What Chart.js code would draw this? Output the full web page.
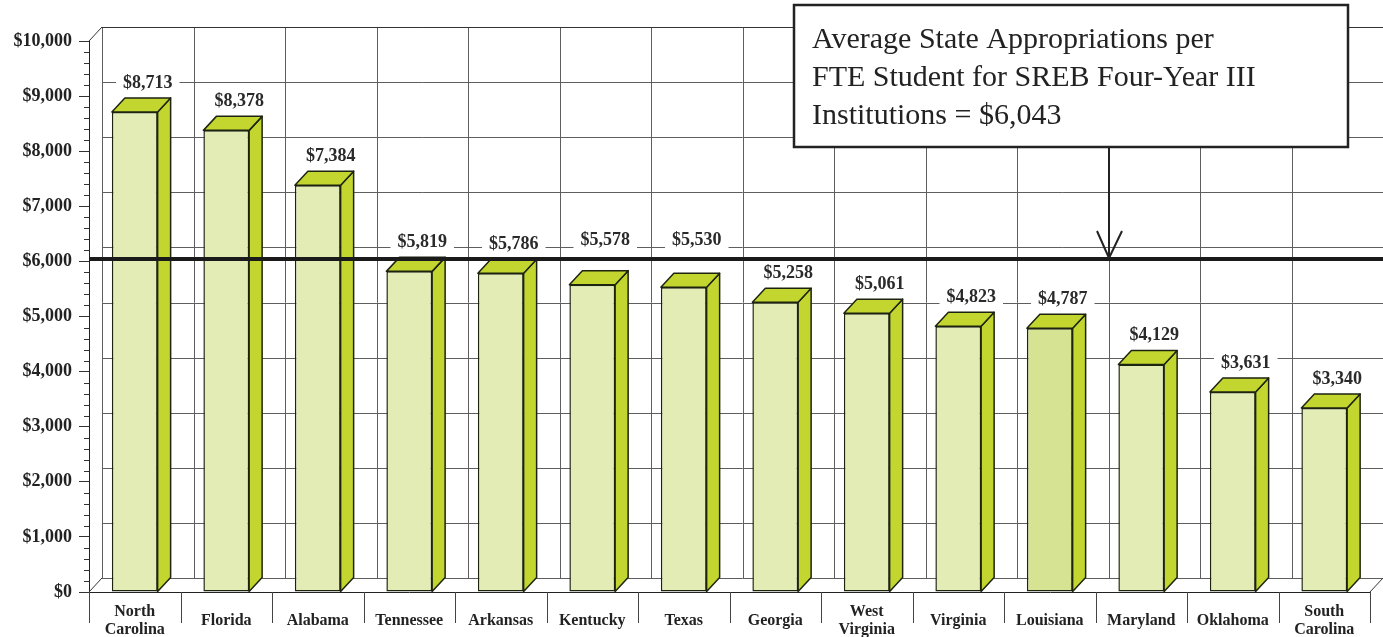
<!DOCTYPE html>
<html>
<head>
<meta charset="utf-8">
<script src="https://cdn.jsdelivr.net/npm/chart.js@4.4.0/dist/chart.umd.min.js"></script>
<style>
  html, body { margin: 0; padding: 0; background: #fff; }
  #wrap { width: 1383px; height: 637px; }
</style>
</head>
<body>
<div id="wrap"><canvas id="grafico" width="1383" height="637"></canvas></div>
<script>
// Dados
const estados = [['North', 'Carolina'], 'Florida', 'Alabama', 'Tennessee', 'Arkansas', 'Kentucky',
  'Texas', 'Georgia', ['West', 'Virginia'], 'Virginia', 'Louisiana', 'Maryland', 'Oklahoma', ['South', 'Carolina']];
const valores = [8713, 8378, 7384, 5819, 5786, 5578, 5530, 5258, 5061, 4823, 4787, 4129, 3631, 3340];
const ticksY = [0, 1000, 2000, 3000, 4000, 5000, 6000, 7000, 8000, 9000, 10000];
const mediaSREB = 6043;
const textoNota = ['Average State Appropriations per', 'FTE Student for SREB Four-Year III', 'Institutions = $6,043'];

const DX = 13; // profundidade 3D
const DY = 14;
const corFrente = '#e2ecb4';
const corLouisiana = '#d5e392';
const corLado = '#c3d630';
const corBorda = '#1c2410';
const corGrade = '#5e5e5e';
const fonteRotulo = '"Liberation Serif", "Times New Roman", serif';

const dinheiro = v => '$' + v.toLocaleString('en-US');

function limiteCategoria(x, i) {
  const w = x.getPixelForValue(1) - x.getPixelForValue(0);
  return x.getPixelForValue(0) - w / 2 + i * w;
}

function linha(ctx, x1, y1, x2, y2) {
  ctx.beginPath();
  ctx.moveTo(x1, y1);
  ctx.lineTo(x2, y2);
  ctx.stroke();
}

// Parede do fundo, chão, faces 3D, média e nota
const fundo3d = {
  id: 'fundo3d',
  beforeDatasetsDraw(chart) {
    const { ctx, chartArea: a, scales: { x, y } } = chart;
    const W = chart.width;
    ctx.save();
    ctx.strokeStyle = corGrade;
    ctx.lineWidth = 1;
    ticksY.forEach(v => {
      const py = Math.round(y.getPixelForValue(v) - DY) + 0.5;
      linha(ctx, a.left + DX, py, W, py);
    });
    for (let i = 0; i < estados.length; i++) {
      const bx = Math.round(limiteCategoria(x, i) + DX) + 0.5;
      linha(ctx, bx, a.top - DY, bx, a.bottom - DY);
    }
    ctx.strokeStyle = '#333';
    linha(ctx, a.left + DX, a.top - DY + 0.5, W, a.top - DY + 0.5);
    linha(ctx, a.left, a.top, a.left + DX, a.top - DY);
    linha(ctx, a.left, a.bottom, a.left + DX, a.bottom - DY);
    linha(ctx, a.right, a.bottom, a.right + DX, a.bottom - DY);
    ctx.restore();
  },
  afterDatasetsDraw(chart) {
    const { ctx } = chart;
    const meta = chart.getDatasetMeta(0);
    ctx.save();
    ctx.lineWidth = 1.5;
    ctx.strokeStyle = corBorda;
    ctx.lineJoin = 'round';
    meta.data.forEach(bar => {
      const l = bar.x - bar.width / 2;
      const r = bar.x + bar.width / 2;
      const t = bar.y;
      const b = bar.base;
      ctx.fillStyle = corLado;
      // lado
      ctx.beginPath();
      ctx.moveTo(r, t);
      ctx.lineTo(r + DX, t - DY);
      ctx.lineTo(r + DX, b - DY);
      ctx.lineTo(r, b);
      ctx.closePath();
      ctx.fill();
      ctx.stroke();
      // topo
      ctx.beginPath();
      ctx.moveTo(l, t);
      ctx.lineTo(l + DX, t - DY);
      ctx.lineTo(r + DX, t - DY);
      ctx.lineTo(r, t);
      ctx.closePath();
      ctx.fill();
      ctx.stroke();
    });
    ctx.restore();
  },
  afterDraw(chart) {
    const { ctx, chartArea: a, scales: { x, y } } = chart;
    const W = chart.width;
    ctx.save();

    // marcas menores do eixo y
    ctx.strokeStyle = '#333';
    ctx.lineWidth = 1;
    for (let k = 0; k < ticksY.length - 1; k++) {
      for (let m = 1; m < 5; m++) {
        const v = ticksY[k] + (ticksY[k + 1] - ticksY[k]) * m / 5;
        const py = Math.round(y.getPixelForValue(v)) + 0.5;
        linha(ctx, a.left - 5, py, a.left, py);
      }
    }

    // separadores das categorias
    ctx.strokeStyle = '#444';
    for (let i = 0; i <= estados.length; i++) {
      const bx = Math.round(limiteCategoria(x, i)) + 0.5;
      linha(ctx, bx, a.bottom, bx, a.bottom + 31);
    }

    // linha da média
    const yMedia = y.getPixelForValue(mediaSREB);
    ctx.strokeStyle = '#1a1a1a';
    ctx.lineWidth = 4;
    linha(ctx, a.left, yMedia, W, yMedia);

    // rótulos dos valores
    ctx.font = 'bold 18px ' + fonteRotulo;
    ctx.textAlign = 'center';
    ctx.textBaseline = 'middle';
    const meta = chart.getDatasetMeta(0);
    meta.data.forEach((bar, i) => {
      const txt = dinheiro(valores[i]);
      const cx = bar.x + DX;
      let cy = bar.y - 30;
      if (cy + 10 > yMedia - 2 && cy - 10 < yMedia + 2) cy = yMedia - 20;
      const w = ctx.measureText(txt).width + 14;
      ctx.fillStyle = '#fff';
      ctx.fillRect(cx - w / 2, cy - 10, w, 20);
      ctx.fillStyle = '#2a2a2a';
      ctx.fillText(txt, cx, cy + 1);
    });

    // caixa de nota com seta
    const bx = 794, by = 5, bw = 554, bh = 142;
    const setaX = 1109;
    ctx.strokeStyle = '#222';
    ctx.lineWidth = 2;
    linha(ctx, setaX, by + bh, setaX, yMedia - 1);
    ctx.beginPath();
    ctx.moveTo(setaX - 12, yMedia - 28);
    ctx.lineTo(setaX, yMedia - 1);
    ctx.lineTo(setaX + 13, yMedia - 28);
    ctx.stroke();

    ctx.fillStyle = '#fff';
    ctx.fillRect(bx, by, bw, bh);
    ctx.lineWidth = 2.5;
    ctx.strokeRect(bx, by, bw, bh);
    ctx.fillStyle = '#222';
    ctx.font = '30px "Liberation Serif"';
    ctx.textAlign = 'left';
    ctx.textBaseline = 'alphabetic';
    textoNota.forEach((t, i) => ctx.fillText(t, bx + 18, by + 43 + i * 38));

    ctx.restore();
  }
};

const ctx = document.getElementById('grafico').getContext('2d');
new Chart(ctx, {
  type: 'bar',
  data: {
    labels: estados,
    datasets: [{
      data: valores,
      backgroundColor: estados.map(e => e === 'Louisiana' ? corLouisiana : corFrente),
      borderColor: corBorda,
      borderWidth: 1.5,
      borderSkipped: false,
      barPercentage: 0.5,
      categoryPercentage: 1.0,
    }]
  },
  options: {
    responsive: false,
    animation: false,
    devicePixelRatio: 1,
    layout: { padding: { top: 41, right: 13, left: 0, bottom: 0 } },
    plugins: { legend: { display: false }, tooltip: { enabled: false } },
    scales: {
      x: {
        grid: { display: false },
        border: { display: true, color: '#222', width: 1 },
        ticks: {
          autoSkip: false,
          maxRotation: 0,
          crossAlign: 'center',
          padding: 12,
          color: '#222',
          font: { family: fonteRotulo, weight: 'bold', size: 16, lineHeight: 1.125 },
        },
        afterFit: s => { s.height = 45; },
      },
      y: {
        min: 0,
        max: 10000,
        afterBuildTicks: s => { s.ticks = ticksY.map(v => ({ value: v })); },
        grid: { display: true, drawOnChartArea: false, drawTicks: true, tickLength: 10, color: '#333' },
        border: { display: true, color: '#222', width: 1 },
        ticks: {
          padding: 7,
          color: '#222',
          font: { family: fonteRotulo, weight: 'bold', size: 18 },
          callback: v => dinheiro(v),
        },
        afterFit: s => { s.width = 89; },
      }
    }
  },
  plugins: [fundo3d]
});
</script>
</body>
</html>
